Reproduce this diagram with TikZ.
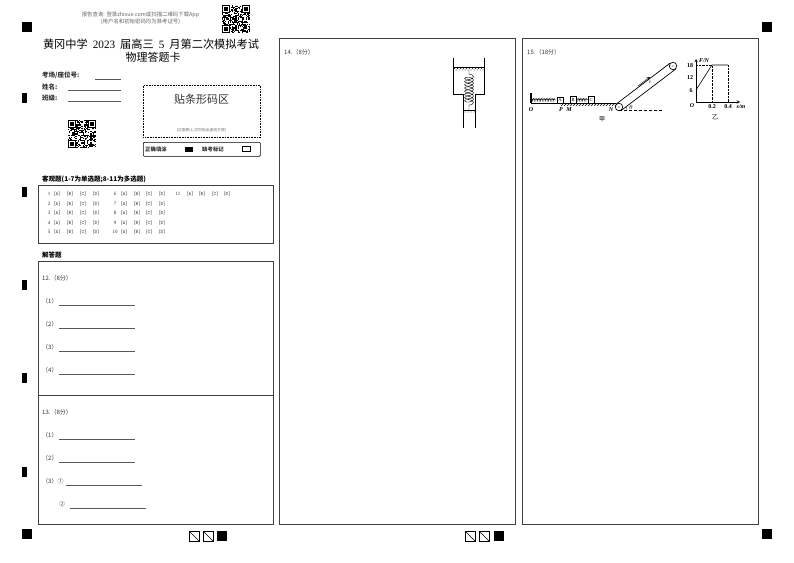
\documentclass[tikz,border=0pt]{standalone}
\usepackage{fontspec}
\setmainfont{Liberation Serif}
\newfontfamily\cjk{Noto Sans CJK SC}
\usetikzlibrary{decorations.pathmorphing,patterns}
\newcommand{\fs}[1]{\fontsize{#1}{#1}\selectfont}
\newcommand{\qrblock}[3]{%
    \pgfmathsetseed{#3}
    \foreach \i in {0,...,24}
        \foreach \j in {0,...,24} {
            \pgfmathparse{rnd<0.5 ? 1 : 0}
            \ifnum\pgfmathresult=1
                \fill (#1+\i*1.12,#2+\j*1.12) rectangle ++(1.12,1.12);
            \fi
        }
    \foreach \a/\b in {0/0,18/0,0/18} {
        \fill [white] (#1+\a*1.12-0.5,#2+\b*1.12-0.5) rectangle ++(8.8,8.8);
        \fill (#1+\a*1.12,#2+\b*1.12) rectangle ++(7.84,7.84);
        \fill [white] (#1+\a*1.12+1.12,#2+\b*1.12+1.12) rectangle ++(5.6,5.6);
        \fill (#1+\a*1.12+2.24,#2+\b*1.12+2.24) rectangle ++(3.36,3.36);
    }
}
\begin{document}
\begin{tikzpicture}[x=1pt, y=-1pt,
        panel/.style={draw=black!75, line width=0.8pt},
        blank/.style={draw=black!65, line width=0.6pt},
        txt/.style={anchor=west, inner sep=0pt, font=\cjk\fs{6}, text=black!80},
        lab/.style={anchor=center, inner sep=0pt, font=\itshape\bfseries\fs{6}},
        solid mark/.style={fill=black},
        wall/.style={line width=0.6pt}]
    \useasboundingbox (0,0) rectangle (794,562);
    \fill [white] (0,0) rectangle (794,562);

    \foreach \x/\y in {22/22,762/22,22/529,762/529,217/531,494/531}
        \fill [solid mark] (\x,\y) rectangle ++(10,10);
    \foreach \y in {93,187,280,373,467}
        \fill [solid mark] (22,\y) rectangle ++(5,10);
    \foreach \x in {189,203,465,479} {
        \draw [line width=0.8pt] (\x,531) rectangle ++(10,10);
        \draw [line width=0.5pt] (\x,531) -- ++(10,10);
    }

    \node (query) [txt, font=\cjk\fs{5.4}, text=black!60, anchor=center] at (140.5,15) {报告查询: 登录zhixue.com或扫描二维码下载App};
    \node (hint) [txt, font=\cjk\fs{5.4}, text=black!60, anchor=center] at (140.5,22) {(用户名和初始密码均为准考证号)};
    \qrblock{222}{5}{11}
    \qrblock{68}{120}{37}

    \node (title) [anchor=center, inner sep=0pt, font=\fs{11.2}] at (151,44) {{\cjk 黄冈中学}\hspace{5pt}2023\hspace{5pt}{\cjk 届高三}\hspace{5pt}5\hspace{5pt}{\cjk 月第二次模拟考试}};
    \node (subtitle) [anchor=center, inner sep=0pt, font=\cjk\fs{11}] at (153,57) {物理答题卡};

    \node (room) [txt, font=\cjk\bfseries\fs{6.5}] at (42,75.5) {考场/座位号:};
    \node (name) [txt, font=\cjk\bfseries\fs{6.5}] at (42,87) {姓名:};
    \node (class) [txt, font=\cjk\bfseries\fs{6.5}] at (42,98) {班级:};
    \draw [blank] (95,79) -- (121,79);
    \draw [blank] (68,90) -- (121,90);
    \draw [blank] (68,101) -- (121,101);

    \node (barcode) [draw, densely dotted, line width=0.6pt, minimum width=117pt, minimum height=52pt, inner sep=0pt, anchor=north west] at (143,85) {};
    \node (barlabel) [inner sep=0pt, font=\cjk\fs{11}, text=black!80] at (201.5,99) {贴条形码区};
    \node (barhint) [inner sep=0pt, font=\cjk\fs{3.8}, text=black!55] at (201.5,130) {(正面朝上,切勿贴出虚线方框)};
    \node (legend) [draw, rounded corners=1pt, line width=0.7pt, minimum width=117pt, minimum height=14pt, inner sep=0pt, anchor=north west] at (143,142) {};
    \node (right) [txt, font=\cjk\bfseries\fs{5.4}] at (145,149) {正确填涂};
    \fill [solid mark] (185,146.5) rectangle (193,151.5);
    \node (absent) [txt, font=\cjk\bfseries\fs{5.4}] at (202,149) {缺考标记};
    \draw [line width=0.5pt] (242,146.5) rectangle (250,151.5);

    \node (choice) [txt, font=\cjk\bfseries\fs{6.5}, text=black] at (42,179) {客观题(1-7为单选题;8-11为多选题)};
    \draw [panel] (38,185) rectangle (273,243);
    \foreach \n [count=\k] in {1,...,5} {
        \pgfmathsetmacro{\ry}{194+(\k-1)*9.5}
        \node (n\n) [txt, font=\fs{5}, anchor=center] at (49,\ry) {\n};
        \foreach \c/\cx in {A/57,B/70,C/83,D/96}
            \node (o\n\c) [txt, font=\ttfamily\fs{5}, anchor=center] at (\cx,\ry) {[\c]};
    }
    \foreach \n [count=\k] in {6,...,10} {
        \pgfmathsetmacro{\ry}{194+(\k-1)*9.5}
        \node (n\n) [txt, font=\fs{5}, anchor=center] at (115,\ry) {\n};
        \foreach \c/\cx in {A/124,B/137,C/149,D/162}
            \node (o\n\c) [txt, font=\ttfamily\fs{5}, anchor=center] at (\cx,\ry) {[\c]};
    }
    \node (n11) [txt, font=\fs{5}, anchor=center] at (178,194) {11};
    \foreach \c/\cx in {A/190,B/202,C/215,D/227}
        \node (o11\c) [txt, font=\ttfamily\fs{5}, anchor=center] at (\cx,194) {[\c]};

    \node (answer) [txt, font=\cjk\bfseries\fs{6.5}, text=black] at (42,255) {解答题};
    \draw [panel] (38,261) rectangle (273,524);
    \draw [panel] (38,395) -- (273,395);
    \draw [panel] (279,38) rectangle (515,524);
    \draw [panel] (522,38) rectangle (758,524);

    \node (q12) [txt] at (42,278) {12.（8分）};
    \foreach \n/\y in {1/301,2/324,3/347,4/370} {
        \node (a\n) [txt] at (42,\y) {（\n）};
        \draw [blank] (59,\y+4) -- (135,\y+4);
    }
    \node (q13) [txt] at (42,412) {13.（8分）};
    \node (b1) [txt] at (42,435) {（1）};
    \draw [blank] (59,439) -- (135,439);
    \node (b2) [txt] at (42,458) {（2）};
    \draw [blank] (59,462) -- (135,462);
    \node (b3) [txt] at (42,481) {（3）①};
    \draw [blank] (66,485) -- (142,485);
    \node (b4) [txt] at (59,504) {②};
    \draw [blank] (70,508) -- (146,508);
    \node (q14) [txt] at (284,52) {14.（8分）};
    \node (q15) [txt] at (527,52) {15.（18分）};

    \draw [wall] (453.5,58) -- (453.5,94) -- (463,94) -- (463,128);
    \draw [wall] (484.5,58) -- (484.5,94) -- (475,94) -- (475,128);
    \fill [pattern=crosshatch dots] (453.5,67.5) rectangle (484.5,70);
    \draw [line width=0.4pt] (453.5,67.5) -- (484.5,67.5);
    \fill [pattern=crosshatch dots] (463,110) rectangle (475,112.5);
    \draw [line width=0.4pt] (463,110) -- (475,110);
    \coordinate (top) at (469,70);
    \coordinate (low) at (469,110);
    \draw [line width=0.4pt, decoration={coil, aspect=0.45, segment length=3.2pt, amplitude=4.5pt, pre length=4pt, post length=4pt}, decorate] (top) -- (low);

    \draw [line width=1.2pt] (531,93) -- (531,103);
    \draw [line width=0.5pt] (531,103.3) -- (615.5,103.3);
    \fill [pattern=north east lines] (560,103.3) rectangle (616,105.5);
    \node (A) [draw, line width=0.4pt, minimum width=6.5pt, minimum height=6pt, inner sep=0pt, font=\fs{4.5}, anchor=south] at (560,103.3) {A};
    \node (B) [draw, line width=0.4pt, minimum width=6pt, minimum height=7pt, inner sep=0pt, font=\fs{4.5}, anchor=south] at (573,103.3) {B};
    \node (C) [draw, line width=0.4pt, minimum width=6pt, minimum height=7pt, inner sep=0pt, font=\fs{4.5}, anchor=south] at (591,103.3) {C};
    \coordinate (fix) at (531,100);
    \draw [line width=0.4pt, decoration={coil, aspect=0.3, segment length=1.6pt, amplitude=1.5pt}, decorate] (fix) -- (A.west |- fix);
    \draw [line width=0.4pt, decoration={coil, aspect=0.3, segment length=1.6pt, amplitude=1.5pt}, decorate] (B.east |- fix) -- (C.west |- fix);
    \node (O) [lab] at (531,110) {O};
    \node (P) [lab] at (561,110) {P};
    \node (M) [lab] at (569,110) {M};
    \node (N) [lab] at (611,110) {N};
    \node (theta) [lab] at (631,107.5) {$\theta$};
    \node (jia) [inner sep=0pt, font=\cjk\fs{6}] at (602,119) {甲};
    \node (p1) [circle, draw, line width=0.7pt, minimum size=7.5pt, inner sep=0pt] at (619,107) {};
    \node (p2) [circle, draw, line width=0.7pt, minimum size=7.5pt, inner sep=0pt] at (673,66) {};
    \fill (p1) circle (0.7);
    \fill (p2) circle (0.7);
    \draw [line width=0.7pt] (p1.135) -- (p2.135);
    \draw [line width=0.7pt] (p1.-45) -- (p2.-45);
    \draw [densely dashed, line width=0.3pt] (p1.south) ++(0,-0.5) -- ++(43,0);
    \draw [line width=0.3pt] (627,110) arc (0:-30:6);
    \coordinate (v0) at (638,86);
    \coordinate (v1) at (650,77);
    \draw [->, >=stealth, line width=0.5pt] (v0) -- (v1);
    \node (v) [inner sep=0pt, font=\itshape\fs{5}] at (650,82) {v};

    \coordinate (origin) at (696,102);
    \coordinate (yend) at (696,59);
    \coordinate (xend) at (740,102);
    \draw [->, >=stealth, line width=0.5pt] (origin) -- (yend);
    \draw [->, >=stealth, line width=0.5pt] (origin) -- (xend);
    \coordinate (g1) at (696,90);
    \coordinate (g2) at (712,65);
    \coordinate (g3) at (728,65);
    \draw [line width=0.6pt] (g1) -- (g2) -- (g3);
    \draw [densely dotted, line width=0.4pt] (696,65) -- (g2) -- (712,102);
    \draw [densely dotted, line width=0.4pt] (g3) -- (728,102);
    \node (F) [lab] at (704,61) {F/N};
    \node (t18) [inner sep=0pt, font=\bfseries\fs{6}] at (690,65.5) {18};
    \node (t12) [inner sep=0pt, font=\bfseries\fs{6}] at (690,78) {12};
    \node (t6) [inner sep=0pt, font=\bfseries\fs{6}] at (691,90.5) {6};
    \node (gO) [lab] at (692,106) {O};
    \node (x2) [inner sep=0pt, font=\bfseries\fs{6}] at (712,106.5) {0.2};
    \node (x4) [inner sep=0pt, font=\bfseries\fs{6}] at (728,106.5) {0.4};
    \node (s) [lab] at (741,106.5) {s/m};
    \node (yi) [inner sep=0pt, font=\cjk\fs{6}] at (715,117) {乙};
\end{tikzpicture}
\end{document}
